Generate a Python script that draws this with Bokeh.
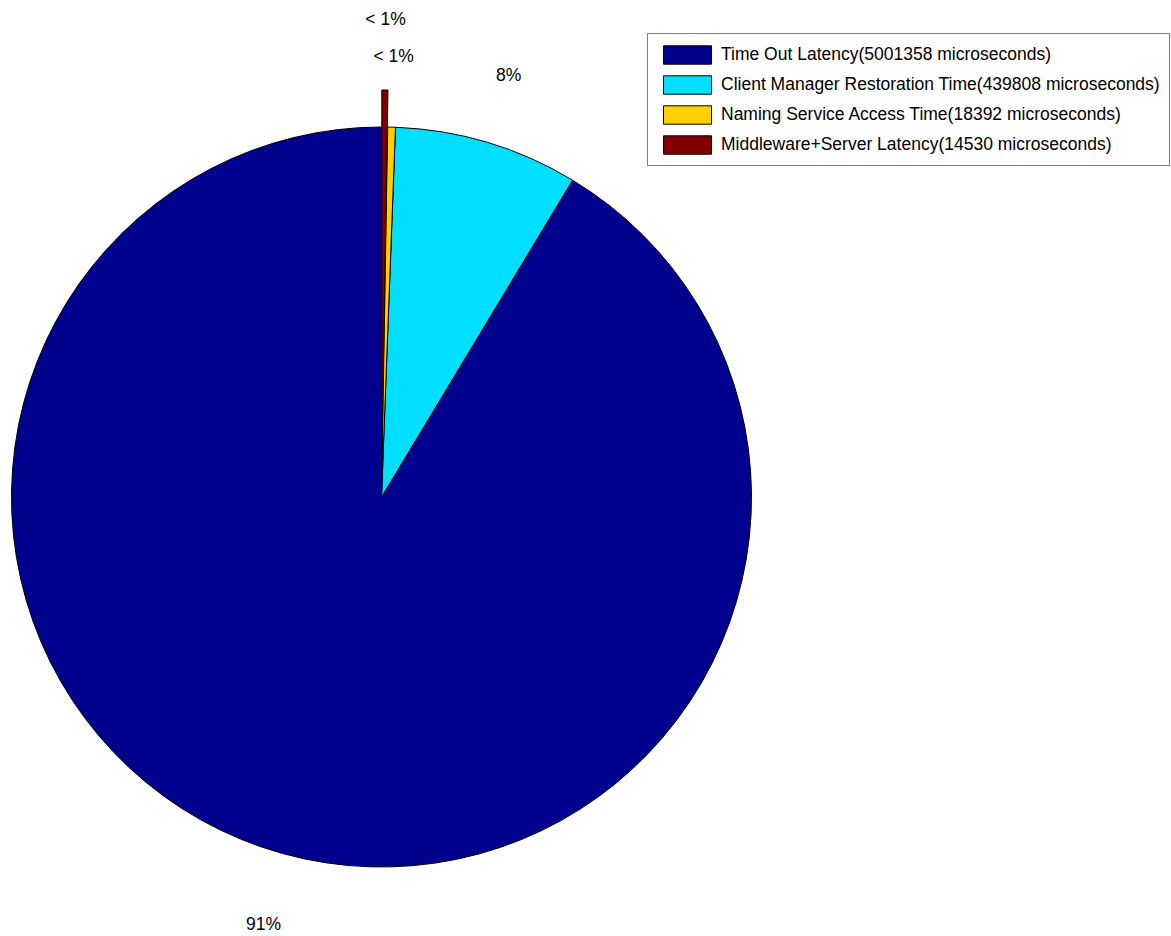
import math
from bokeh.plotting import figure
from bokeh.models import Range1d, Legend, LegendItem, ColumnDataSource
from bokeh.core.properties import value
from bokeh.embed import file_html
from bokeh.resources import INLINE

# ---- data ----
names = ["Time Out Latency", "Client Manager Restoration Time",
         "Naming Service Access Time", "Middleware+Server Latency"]
micros = [5001358, 439808, 18392, 14530]
explode = [0, 0, 0, 1]
colors = ["#00008F", "#00DFFF", "#FFCF00", "#800000"]

# ---- layout ----
W, H = 1171, 936
cx, cy = 381, 496.5          # pie centre in canvas px (from left, from top)
R = 370.0                    # radius in px (1 data unit = 1 px)
FONT = "Liberation Sans"
FS = "17.5px"

p = figure(width=W, height=H, output_backend="svg", toolbar_location=None,
           x_range=Range1d(-cx, W - cx), y_range=Range1d(-(H - cy), cy),
           min_border=0, outline_line_color=None)
p.axis.visible = False
p.grid.visible = False
p.background_fill_color = "white"

total = float(sum(micros))
start = math.pi / 2
items = []
lx, ly, ltxt = [], [], []
for i, v in enumerate(micros):
    frac = v / total
    end = start + frac * 2 * math.pi
    mid = (start + end) / 2
    off = 0.1 * R * explode[i]
    ox, oy = off * math.cos(mid), off * math.sin(mid)
    src = ColumnDataSource(dict(x=[ox], y=[oy], s=[start], e=[end]))
    r = p.wedge(x="x", y="y", radius=R, start_angle="s", end_angle="e",
                direction="anticlock", source=src,
                fill_color=colors[i], line_color="black", line_width=1)
    items.append(LegendItem(label=f"{names[i]}({v} microseconds)", renderers=[r]))
    pct = frac * 100
    lab = "< 1%" if pct < 1 else f"{round(pct)}%"
    k = 1.2 if math.sin(mid) > 0 else 1.19
    lx.append(ox + k * R * math.cos(mid))
    ly.append(oy + k * R * math.sin(mid) - 3)
    ltxt.append(lab)
    start = end

p.text(x=lx, y=ly, text=ltxt, text_align="center", text_baseline="middle",
       text_font=value(FONT), text_font_size=FS, text_color="black")

legend = Legend(items=items, location=(647, H - 35 - 131),
                glyph_width=60, glyph_height=23, spacing=7, padding=9,
                label_standoff=4, margin=0,
                label_text_font=FONT, label_text_font_size=FS,
                label_text_color="black", label_height=23,
                border_line_color="black", border_line_width=1,
                background_fill_color="white", background_fill_alpha=1.0)
p.add_layout(legend)

open("out.html", "w").write(file_html(p, INLINE))
